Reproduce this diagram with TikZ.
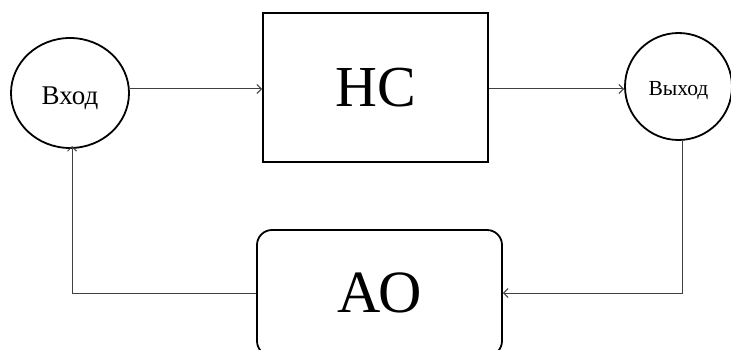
\documentclass[tikz,border=0pt]{standalone}
\usepackage{fontspec}
\setmainfont{Liberation Serif}
\usetikzlibrary{shapes.geometric,arrows.meta}
\begin{document}
\begin{tikzpicture}[x=1pt,y=-1pt,
  blk/.style={draw=black,line width=1.8pt,inner sep=0pt},
  ell/.style={blk,ellipse},
  conn/.style={draw=black!75,line width=1pt,-{Straight Barb[length=4.5pt,width=9pt]}}]
\useasboundingbox (0,0) rectangle (731,350);
\node[ell,minimum width=118pt,minimum height=110pt,font=\fontsize{27}{30}\selectfont] (in) at (70,93) {\raisebox{-5pt}[\height][\depth]{Вход}};
\node[blk,rectangle,minimum width=225pt,minimum height=149pt,font=\fontsize{58}{60}\selectfont] (hc) at (375.5,87.5) {НС};
\node[ell,minimum width=107pt,minimum height=107pt,font=\fontsize{21.5}{23}\selectfont] (out) at (678.5,86.5) {\raisebox{-4pt}[\height][\depth]{Выход}};
\node[blk,rectangle,rounded corners=15pt,minimum width=245pt,minimum height=126pt,font=\fontsize{60}{62}\selectfont] (ao) at (379.5,293) {АО};
\coordinate (a1) at (in.east |- 0,89);
\coordinate (a2) at (hc.west |- 0,89);
\coordinate (b1) at (hc.east |- 0,89);
\coordinate (b2) at (out.west |- 0,89);
\coordinate (c1) at (682,140);
\coordinate (d1) at (72,146);
\draw[conn] (a1) -- (a2);
\draw[conn] (b1) -- (b2);
\draw[conn] (c1) |- (ao.east);
\draw[conn] (ao.west) -| (d1);
\end{tikzpicture}
\end{document}
